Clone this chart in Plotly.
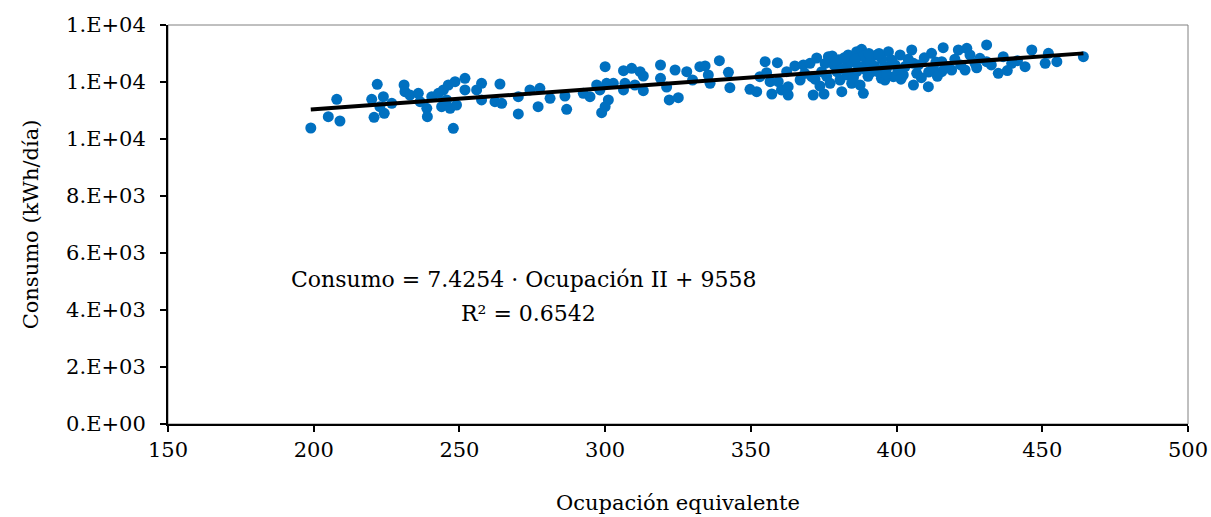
import plotly.graph_objects as go

# Daily consumption vs. equivalent occupancy
ocupacion = [
    199, 205, 207.9, 209, 219.9, 221.8, 220.7, 223.9, 224.2, 226.8, 222.7, 231, 231.3, 233,
    235.9, 236.5, 238.8, 239, 240.5, 242.8, 243.9, 244.5, 246.2, 246.8, 247.9, 249, 248.5,
    251.9, 251.9, 255.9, 257.6, 257.6, 262.2, 263.9, 245.6,
    264.5, 270.2, 270.2, 274.2, 277.6, 277, 281.1, 286.2, 286.8, 292.5, 294.8, 297.1, 298.2,
    300, 300.5, 302.8, 301.1, 300, 298.8, 306.3, 309.1, 306.8, 306.3, 310.2, 312, 313.1,
    313.1, 319, 319, 321.1, 324, 322, 325.1, 328, 330, 332.5,
    334.3, 335.4, 336, 339.2, 342.3, 342.8, 349.7, 352, 353.1, 354.9, 355.4, 356.6, 359.1,
    357.2, 359.4, 360.5, 362.3, 362.8, 362.8, 365.1, 366.9, 368, 370.3, 370.9, 371.4, 372.6,
    373.7, 374.3, 375.1, 376.6, 377.2, 377.9, 379.5, 380.6, 381.2, 383.4, 382.9, 384.6,
    386.3, 386.3, 387.5, 388.6, 388, 389.7, 391.5, 393.2, 394.8, 396, 397.2, 398.3, 398.9,
    396.6, 396, 401.2, 402.3, 405.2, 405.8, 405.8, 406.9, 410.9, 412, 412.6, 415.5, 416,
    415.5, 418.9, 421.2, 423.5, 424.1, 425.2, 426.9, 428.6, 430.9, 430.9, 434.9, 436.6,
    439.5, 444.1, 446.4, 451, 452.1, 455, 464.1, 401.7,
    375.5, 378.5, 380.2, 381.5, 383.0, 384.5, 385.2, 387.0, 388.5, 389.0, 390.2, 391.0,
    392.5, 393.8, 395.0, 396.5, 399.5, 400.5, 401.5, 403.0, 404.0, 407.5, 408.5, 409.5,
    411.0, 413.5, 414.0, 417.0, 420.0, 422.0, 427.5, 432.5, 438.0, 441.5, 368.5, 372.0,
    376.0, 379.0, 382.0, 385.8, 390.5, 394.0,
]
consumo = [
    10386, 10783, 11393, 10632, 11393, 11919, 10762, 11485, 10902, 11253, 11134, 11895, 11660, 11544,
    11603, 11309, 11077, 10783, 11485, 11603, 11134, 11720, 11895, 11077, 10375, 11193, 12011,
    12130, 11720, 11720, 11954, 11369, 11309, 11930, 11369,
    11253, 11485, 10878, 11720, 11779, 11134, 11428, 11509, 11043, 11603, 11485, 11895, 11720,
    12537, 11954, 11954, 11369, 11134, 10925, 12397, 12480, 11954, 11720, 11895, 12362, 12211,
    11696, 12597, 12130, 11825, 12421, 11369, 11450, 12362, 12070, 12537,
    12562, 12246, 11954, 12748, 12340, 11801, 11743, 11660, 12186, 12713, 12327, 12011, 12678,
    11579, 12011, 11720, 12362, 11837, 11544, 12562, 12070, 12597, 12655, 12186, 11544, 12842,
    11860, 12362, 11579, 12889, 11954, 12912, 12362, 12070, 11660, 12947, 12538, 11954,
    13064, 12362, 11895, 11603, 13147, 12772, 12362, 12947, 12130, 12538, 13064, 12772, 12186,
    12480, 12070, 12947, 12246, 13123, 12655, 11895, 12305, 11837, 13006, 12480, 12713, 13205,
    12362, 12421, 13123, 12421, 13182, 12947, 12655, 12830, 13299, 12713, 12305, 12889,
    12655, 12538, 13123, 12655, 13006, 12713, 12889, 12305,
    12650, 12600, 12780, 12450, 12250, 12700, 12150, 12550, 12900, 12450, 12200, 12700,
    12550, 12350, 12800, 12280, 12600, 12400, 12100, 12550, 12800, 12600, 12150, 12850,
    12350, 12700, 12200, 12550, 12800, 12600, 12500, 12600, 12400, 12750, 12300, 12100,
    12200, 12750, 12850, 12800, 13000, 13000,
]

# Linear fit reported on the chart
pendiente = 7.4254
intercepto = 9558
r2 = 0.6542

y_ticks = [0, 2000, 4000, 6000, 8000, 10000, 12000, 14000]
y_ticktext = ["0.E+00", "2.E+03", "4.E+03", "6.E+03", "8.E+03", "1.E+04", "1.E+04", "1.E+04"]
x_ticks = [150, 200, 250, 300, 350, 400, 450, 500]

FONT = "DejaVu Serif"
FS = 21

x_fit = [min(ocupacion), max(ocupacion)]
y_fit = [pendiente * v + intercepto for v in x_fit]

fig = go.Figure()
fig.add_trace(go.Scatter(
    x=ocupacion, y=consumo, mode="markers",
    marker=dict(color="#0070C0", size=11, line=dict(width=0)),
    showlegend=False,
))
fig.add_trace(go.Scatter(
    x=x_fit, y=y_fit, mode="lines",
    line=dict(color="black", width=4),
    showlegend=False,
))

fig.add_annotation(
    x=0.349, y=0.361, xref="paper", yref="paper", xanchor="center", yanchor="middle",
    text=f"Consumo = {pendiente} · Ocupación II + {intercepto}",
    showarrow=False, font=dict(family=FONT, size=22, color="black"),
)
fig.add_annotation(
    x=0.353, y=0.276, xref="paper", yref="paper", xanchor="center", yanchor="middle",
    text=f"R² = {r2}",
    showarrow=False, font=dict(family=FONT, size=22, color="black"),
)

# light frame around the plotting area
fig.add_shape(type="rect", xref="paper", yref="paper", x0=0, x1=1, y0=0, y1=1,
              line=dict(color="#808080", width=1), layer="below")

fig.update_layout(
    width=1211, height=517,
    margin=dict(l=168, r=23, t=25, b=93, autoexpand=False),
    paper_bgcolor="white", plot_bgcolor="white",
    font=dict(family=FONT, size=FS, color="black"),
    xaxis=dict(
        range=[150, 500], tickvals=x_ticks, showgrid=False, zeroline=False,
        showline=True, linecolor="black", linewidth=2, automargin=False,
        ticks="outside", ticklen=6, tickcolor="black", tickwidth=1.5,
        title=dict(text="Ocupación equivalente", standoff=34,
                   font=dict(family=FONT, size=FS)),
        tickfont=dict(family=FONT, size=FS),
    ),
    yaxis=dict(
        range=[0, 14000], tickvals=y_ticks, ticktext=y_ticktext,
        showgrid=False, zeroline=False, automargin=False,
        showline=True, linecolor="black", linewidth=2,
        ticks="outside", ticklen=6, tickcolor="black", tickwidth=1.5,
        ticklabelstandoff=10,
        title=dict(text="Consumo (kWh/día)", standoff=22,
                   font=dict(family=FONT, size=FS)),
        tickfont=dict(family=FONT, size=FS),
    ),
)

fig.write_html("out.html")
